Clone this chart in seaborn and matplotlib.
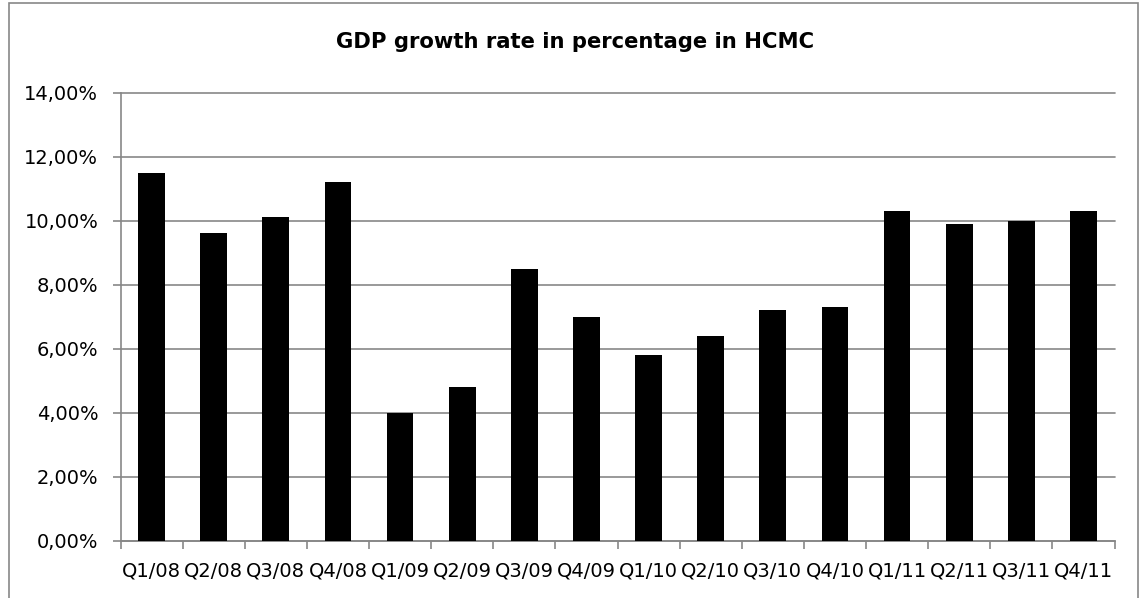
import matplotlib
matplotlib.use("Agg")
import matplotlib.pyplot as plt
import seaborn as sns
import pandas as pd
from matplotlib.patches import Rectangle
from matplotlib.ticker import FuncFormatter, FixedLocator

quarters = ["Q1/08", "Q2/08", "Q3/08", "Q4/08", "Q1/09", "Q2/09", "Q3/09", "Q4/09",
            "Q1/10", "Q2/10", "Q3/10", "Q4/10", "Q1/11", "Q2/11", "Q3/11", "Q4/11"]
growth = [11.5, 9.6, 10.1, 11.2, 4.0, 4.8, 8.5, 7.0, 5.8, 6.4, 7.2, 7.3, 10.3, 9.9, 10.0, 10.3]
title = "GDP growth rate in percentage in HCMC"

sns.set_theme(style="white")
plt.rcParams['font.family'] = ['DejaVu Sans']

W, H = 1144, 598
fig = plt.figure(figsize=(W / 100, H / 100), dpi=100)
left, right, bottom, top = 120.5, 1114.5, 541, 92.5
ax = fig.add_axes([left / W, (H - bottom) / H, (right - left) / W, (bottom - top) / H])

df = pd.DataFrame({"quarter": quarters, "growth": growth})
sns.barplot(data=df, x="quarter", y="growth", color="black", saturation=1,
            width=0.43, ax=ax, zorder=3)
for p in ax.patches:
    p.set_linewidth(0)

grey = "#878787"
ax.set_ylim(0, 14)
ax.set_xlim(-0.5, len(quarters) - 0.5)
ax.set_yticks([0, 2, 4, 6, 8, 10, 12, 14])
ax.yaxis.set_major_formatter(FuncFormatter(lambda v, p: f"{v:.2f}%".replace(".", ",")))
ax.grid(axis="y", color=grey, linewidth=1.2, zorder=0)
ax.set_axisbelow(True)
ax.set_xlabel("")
ax.set_ylabel("")
for gl in ax.get_ygridlines():
    gl.set_clip_on(False)

for s in ["top", "right"]:
    ax.spines[s].set_visible(False)
for s in ["left", "bottom"]:
    ax.spines[s].set_visible(True)
    ax.spines[s].set_color(grey)
    ax.spines[s].set_linewidth(1.2)

ax.set_xticks(range(len(quarters)))
ax.set_xticklabels(quarters)
ax.xaxis.set_minor_locator(FixedLocator([i - 0.5 for i in range(len(quarters) + 1)]))
ax.tick_params(axis="x", which="major", length=0, pad=15, labelsize=14, labelcolor="black")
ax.tick_params(axis="x", which="minor", length=6, width=1.2, color=grey, direction="out", bottom=True)
ax.tick_params(axis="y", which="major", length=6, width=1.2, color=grey, direction="out",
               pad=10, labelsize=14, labelcolor="black", left=True)

fig.text(575 / W, 1 - 42 / H, title, ha="center", va="center",
         fontsize=15.2, fontweight="bold", color="black")

fig.patches.append(Rectangle((8.5 / W, -0.1), (1138 - 8.5) / W, 0.1 + (H - 3.3) / H,
                             transform=fig.transFigure, fill=False, edgecolor=grey,
                             linewidth=1.2, clip_on=False))

fig.savefig("out.png", dpi=100)
